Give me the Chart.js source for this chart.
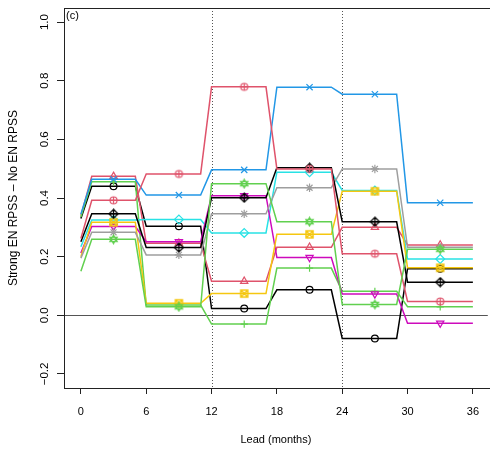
<!DOCTYPE html>
<html lang="en">
<head>
<meta charset="UTF-8">
<title>Strong EN RPSS - No EN RPSS</title>
<script src="https://cdn.jsdelivr.net/npm/chart.js"></script>
<style>
  html, body { margin: 0; padding: 0; background: #fff; }
  #chart { display: block; }
</style>
</head>
<body>
<canvas id="chart" width="490" height="449"></canvas>
<script>
// lead months where the lines bend or carry a marker
const leads = [0, 1, 3, 5, 6, 9, 11, 12, 15, 17, 18, 21, 23, 24, 27, 29, 30, 33, 36];
const markerLeads = [3, 9, 15, 21, 27, 33];
const xTicks = [0, 6, 12, 18, 24, 30, 36];
const yTicks = [-0.2, 0, 0.2, 0.4, 0.6, 0.8, 1.0];
const dividers = [12, 24];

const s1 = [0.330, 0.440, 0.440, 0.440, 0.304, 0.304, 0.304, 0.023, 0.023, 0.023, 0.087, 0.087, 0.087, -0.079, -0.079, -0.079, 0.159, 0.159, 0.159];
const s2 = [0.340, 0.474, 0.474, 0.474, 0.246, 0.246, 0.246, 0.116, 0.116, 0.116, 0.232, 0.232, 0.232, 0.300, 0.300, 0.300, 0.240, 0.240, 0.240];
const s3 = [0.335, 0.455, 0.455, 0.455, 0.035, 0.035, 0.035, -0.030, -0.030, -0.030, 0.161, 0.161, 0.161, 0.082, 0.082, 0.082, 0.029, 0.029, 0.029];
const s4 = [0.345, 0.464, 0.464, 0.464, 0.410, 0.410, 0.410, 0.496, 0.496, 0.496, 0.778, 0.778, 0.778, 0.754, 0.754, 0.754, 0.384, 0.384, 0.384];
const s5 = [0.234, 0.325, 0.325, 0.325, 0.327, 0.327, 0.327, 0.281, 0.281, 0.281, 0.488, 0.488, 0.488, 0.426, 0.426, 0.426, 0.192, 0.192, 0.192];
const s6 = [0.212, 0.303, 0.303, 0.303, 0.251, 0.251, 0.251, 0.408, 0.408, 0.408, 0.197, 0.197, 0.197, 0.073, 0.073, 0.073, -0.027, -0.027, -0.027];
const s7 = [0.200, 0.317, 0.317, 0.317, 0.041, 0.041, 0.041, 0.074, 0.074, 0.074, 0.276, 0.276, 0.276, 0.423, 0.423, 0.423, 0.162, 0.162, 0.162];
const s8 = [0.195, 0.283, 0.283, 0.283, 0.206, 0.206, 0.206, 0.346, 0.346, 0.346, 0.435, 0.435, 0.435, 0.499, 0.499, 0.499, 0.232, 0.232, 0.232];
const s9 = [0.251, 0.346, 0.346, 0.346, 0.231, 0.231, 0.231, 0.401, 0.401, 0.401, 0.503, 0.503, 0.503, 0.319, 0.319, 0.319, 0.113, 0.113, 0.113];
const s10 = [0.262, 0.392, 0.392, 0.392, 0.482, 0.482, 0.482, 0.779, 0.779, 0.779, 0.499, 0.499, 0.499, 0.210, 0.210, 0.210, 0.047, 0.047, 0.047];
const s11 = [0.150, 0.259, 0.259, 0.259, 0.029, 0.029, 0.029, 0.449, 0.449, 0.449, 0.319, 0.319, 0.319, 0.037, 0.037, 0.037, 0.225, 0.225, 0.225];

const seriesValues = [s1, s2, s3, s4, s5, s6, s7, s8, s9, s10, s11];
const seriesColors = ['#000000', '#DF536B', '#61D04F', '#2297E6', '#28E2E5', '#CD0BBC',
                      '#F5C710', '#9E9E9E', '#000000', '#DF536B', '#61D04F'];
const seriesMarkers = ['circle', 'triangle', 'cross', 'crossRot', 'rectRot', 'triangleDown',
                       'squareX', 'star', 'diamondPlus', 'circlePlus', 'david'];

// small canvases for the R symbols Chart.js doesn't have
function makeMarker(kind, color) {
  const c = document.createElement('canvas');
  c.width = 11; c.height = 11;
  const g = c.getContext('2d');
  g.strokeStyle = color;
  g.lineWidth = 1.2;
  const m = 5.5;
  g.beginPath();
  if (kind === 'squareX') {
    g.lineWidth = 1.5;
    g.rect(2, 2, 7, 7);
    g.moveTo(2, 2); g.lineTo(9, 9);
    g.moveTo(9, 2); g.lineTo(2, 9);
  } else if (kind === 'diamondPlus') {
    g.moveTo(m, m - 4.5); g.lineTo(m + 4.5, m); g.lineTo(m, m + 4.5); g.lineTo(m - 4.5, m); g.closePath();
    g.moveTo(m, m - 4.5); g.lineTo(m, m + 4.5);
    g.moveTo(m - 4.5, m); g.lineTo(m + 4.5, m);
  } else if (kind === 'circlePlus') {
    g.arc(m, m, 3.5, 0, Math.PI * 2);
    g.moveTo(m, m - 3.5); g.lineTo(m, m + 3.5);
    g.moveTo(m - 3.5, m); g.lineTo(m + 3.5, m);
  } else if (kind === 'david') {
    const r = 4.3;
    for (const flip of [1, -1]) {
      g.moveTo(m, m - flip * r);
      g.lineTo(m + r * 0.866, m + flip * r * 0.5);
      g.lineTo(m - r * 0.866, m + flip * r * 0.5);
      g.closePath();
    }
  }
  g.stroke();
  return c;
}

const builtinRadius = { circle: 3.4, triangle: 4.2, cross: 3.6, crossRot: 4.4, rectRot: 4.4, triangleDown: 4.2, star: 4.2 };

const datasets = seriesValues.map((vals, i) => {
  const kind = seriesMarkers[i];
  const color = seriesColors[i];
  let style = kind, rot = 0, radius = builtinRadius[kind] || 4;
  if (kind === 'triangleDown') { style = 'triangle'; rot = 180; }
  if (['squareX', 'diamondPlus', 'circlePlus', 'david'].includes(kind)) style = makeMarker(kind, color);
  return {
    label: 'series ' + (i + 1),
    data: leads.map((x, j) => ({ x: x, y: vals[j] })),
    borderColor: color,
    borderWidth: 1.5,
    tension: 0,
    fill: false,
    pointStyle: style,
    pointRotation: rot,
    pointBorderColor: color,
    pointBackgroundColor: 'rgba(0,0,0,0)',
    pointBorderWidth: 1.2,
    pointRadius: ctx => markerLeads.includes(leads[ctx.dataIndex]) ? radius : 0,
    pointHoverRadius: 0,
    order: seriesValues.length - i
  };
});

const framePlugin = {
  id: 'frame',
  beforeDatasetsDraw(chart) {
    const { ctx, chartArea: a, scales: { x, y } } = chart;
    ctx.save();
    // zero line
    const y0 = Math.round(y.getPixelForValue(0)) + 0.5;
    ctx.strokeStyle = '#555';
    ctx.lineWidth = 1.2;
    ctx.beginPath();
    ctx.moveTo(a.left, y0); ctx.lineTo(a.right, y0);
    ctx.stroke();
    // dotted dividers
    ctx.strokeStyle = '#555';
    ctx.lineWidth = 1;
    ctx.setLineDash([1, 2]);
    dividers.forEach(v => {
      const px = Math.round(x.getPixelForValue(v)) + 0.5;
      ctx.beginPath();
      ctx.moveTo(px, a.top); ctx.lineTo(px, a.bottom);
      ctx.stroke();
    });
    ctx.restore();
  },
  afterDraw(chart) {
    const { ctx, chartArea: a, scales: { y } } = chart;
    ctx.save();
    ctx.strokeStyle = '#222';
    ctx.lineWidth = 1;
    ctx.strokeRect(a.left + 0.5, a.top + 0.5, a.right - a.left + 5, a.bottom - a.top);
    // y tick labels, rotated like R
    ctx.fillStyle = '#000';
    ctx.font = '11.5px "Liberation Sans", Arial, sans-serif';
    ctx.textAlign = 'center';
    ctx.textBaseline = 'middle';
    yTicks.forEach(v => {
      ctx.save();
      ctx.translate(45, y.getPixelForValue(v));
      ctx.rotate(-Math.PI / 2);
      ctx.fillText(v.toFixed(1).replace('-', '\u2212'), 0, 0);
      ctx.restore();
    });
    // panel letter
    ctx.font = '11px "Liberation Sans", Arial, sans-serif';
    ctx.textAlign = 'left';
    ctx.textBaseline = 'top';
    ctx.fillText('(c)', a.left + 2, a.top + 2);
    ctx.restore();
  }
};

new Chart(document.getElementById('chart'), {
  type: 'line',
  data: { datasets: datasets },
  options: {
    responsive: false,
    animation: false,
    devicePixelRatio: 1,
    events: [],
    layout: { padding: { left: 0, top: 8, right: 0, bottom: 0 } },
    plugins: { legend: { display: false }, tooltip: { enabled: false } },
    scales: {
      x: {
        type: 'linear',
        min: -1.55,
        max: 37.37,
        afterBuildTicks: s => { s.ticks = xTicks.map(v => ({ value: v })); },
        afterFit: s => { s.height = 61; },
        grid: { drawOnChartArea: false, drawTicks: true, tickLength: 6, color: '#222' },
        border: { display: false },
        ticks: { color: '#000', padding: 11, maxRotation: 0, font: { family: '"Liberation Sans", Arial, sans-serif', size: 11 } },
        title: { display: true, text: 'Lead (months)', color: '#000', padding: { top: 0, bottom: 2 },
                 font: { family: '"Liberation Sans", Arial, sans-serif', size: 11 } }
      },
      y: {
        min: -0.248,
        max: 1.048,
        afterBuildTicks: s => { s.ticks = yTicks.map(v => ({ value: v })); },
        afterFit: s => { s.width = 64; },
        grid: { drawOnChartArea: false, drawTicks: true, tickLength: 7, color: '#222' },
        border: { display: false },
        ticks: { display: false },
        title: { display: true, text: 'Strong EN RPSS \u2013 No EN RPSS', color: '#000', padding: { top: 6, bottom: 0 },
                 font: { family: '"Liberation Sans", Arial, sans-serif', size: 12 } }
      }
    }
  },
  plugins: [framePlugin]
});
</script>
</body>
</html>
